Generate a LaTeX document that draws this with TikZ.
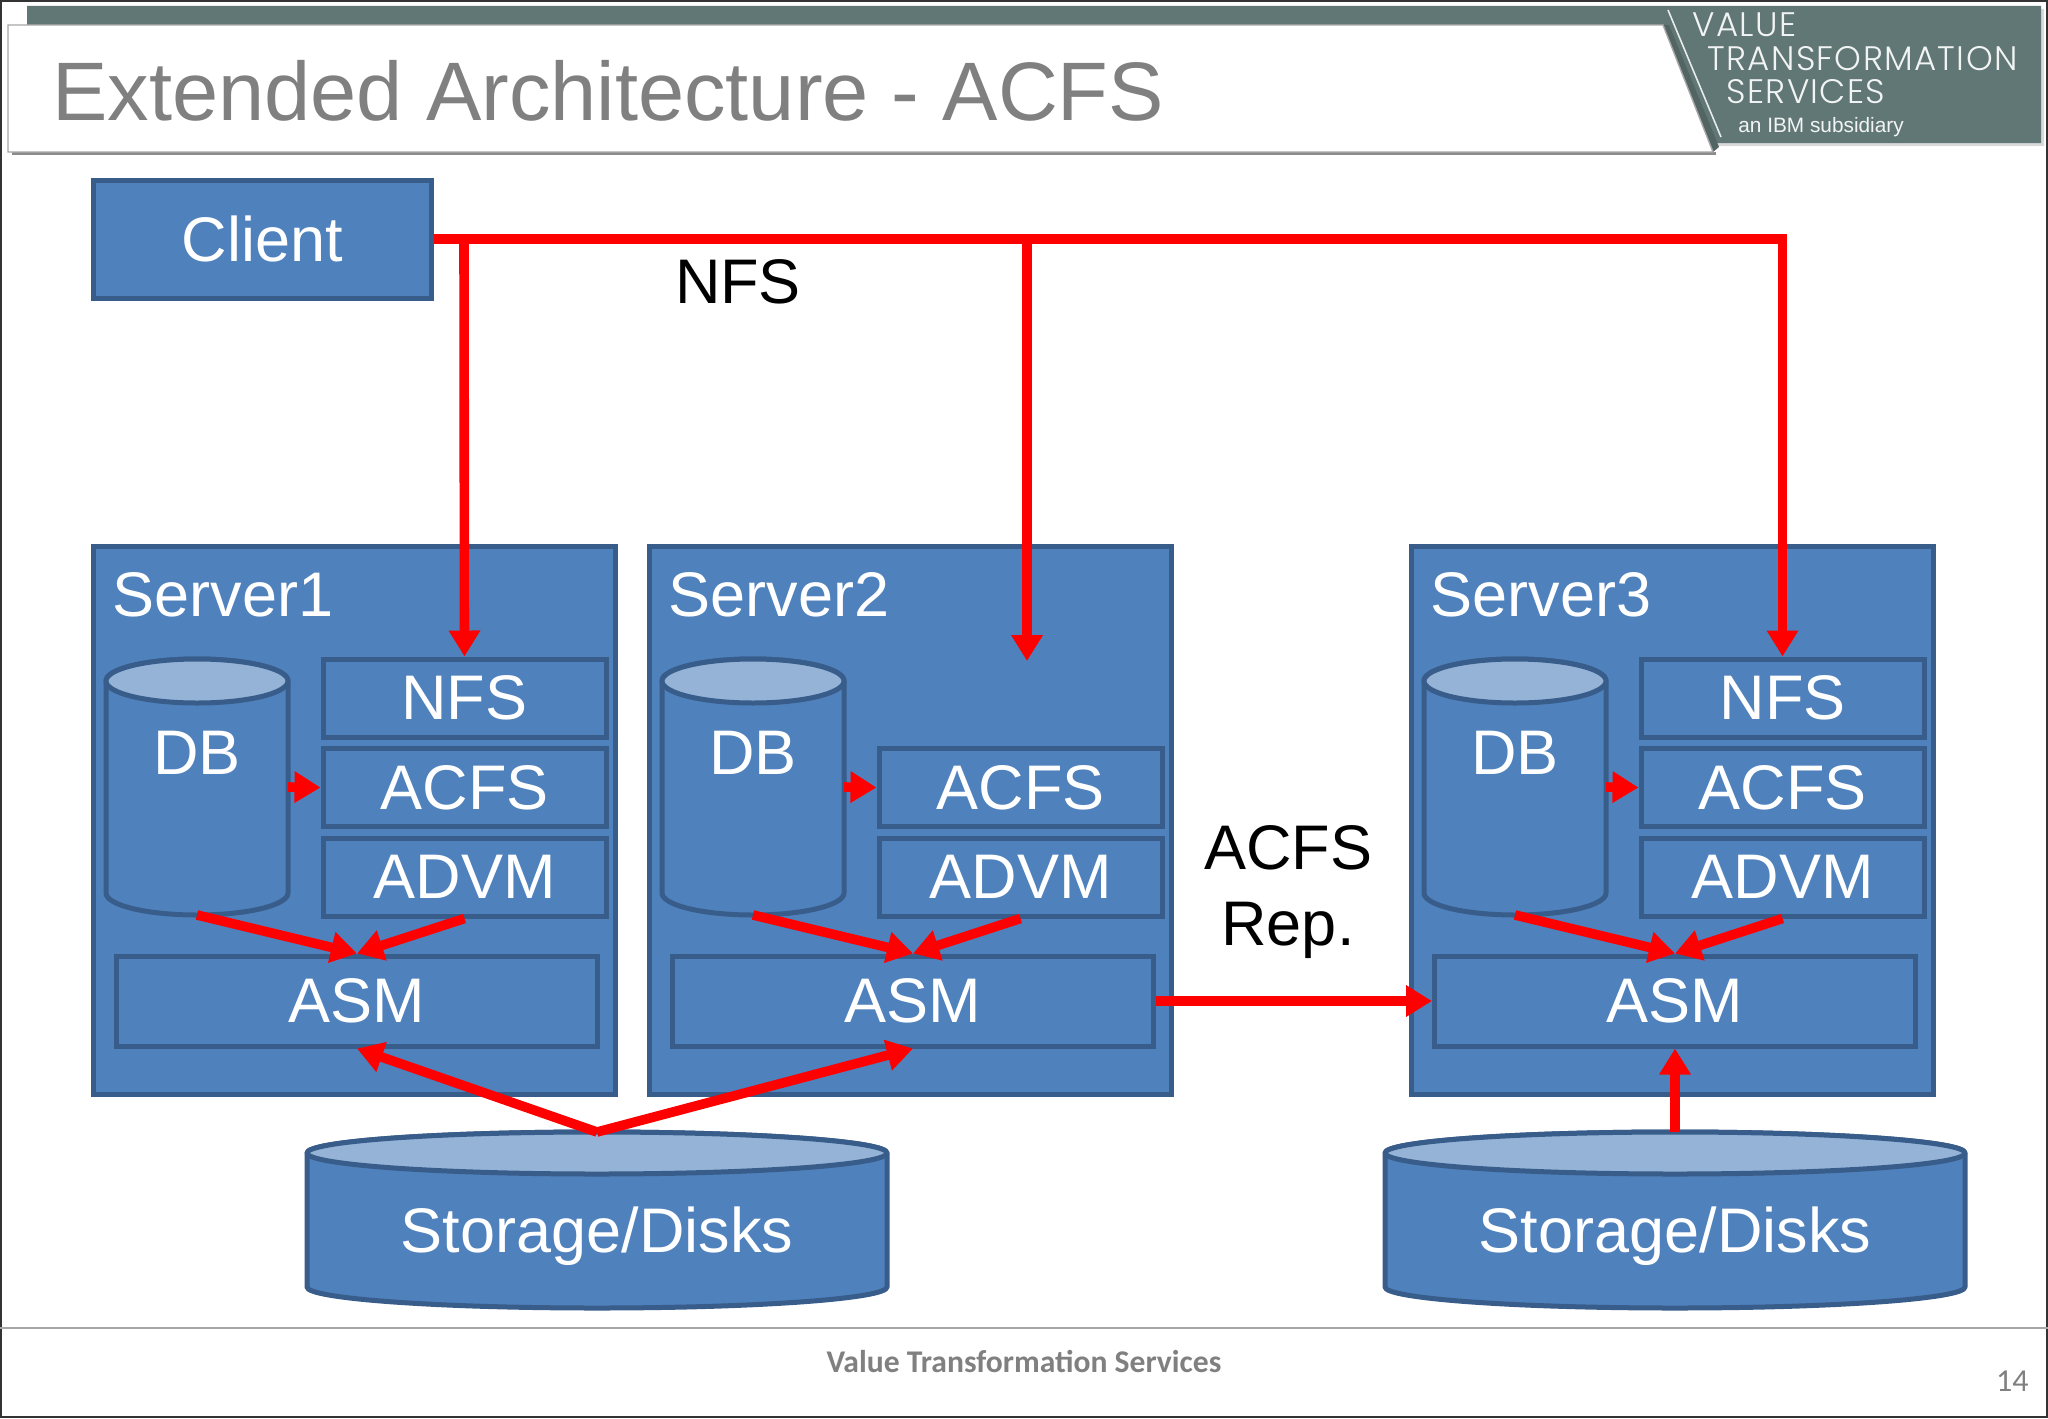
\documentclass[tikz,border=0pt]{standalone}
\usepackage{fontspec}
\setmainfont{Liberation Sans}
\newfontfamily\logofont{Poppins Light}[LetterSpace=4]
\newfontfamily\footfont{Carlito}
\usetikzlibrary{arrows.meta}
\definecolor{boxfill}{HTML}{4F81BD}
\definecolor{boxline}{HTML}{385D8A}
\definecolor{boxtop}{HTML}{95B3D7}
\definecolor{barfill}{HTML}{607775}
\definecolor{titlegray}{HTML}{808080}
\tikzset{
  box/.style={draw=boxline,fill=boxfill,line width=2.5pt,inner sep=0pt,text=white,
    font=\fontsize{31.5}{31.5}\selectfont},
  part/.style={box,minimum width=141.5pt,minimum height=39pt},
  can/.style={inner sep=0pt,outer sep=0pt},
  canline/.style={draw=boxline,line width=2.5pt,line join=round},
  pipe/.style={red,line width=4.8pt,-{Triangle[width=15pt,length=13pt]}},
  lbl/.style={inner sep=0pt,font=\fontsize{31.5}{31.5}\selectfont},
  logo/.style={inner sep=0pt,anchor=base west,text=white!92!barfill},
}
\begin{document}
\begin{tikzpicture}[x=.5pt,y=-.5pt]
  \def\drawcan#1#2#3{
    \filldraw[canline,fill=boxfill] ([yshift=-#3]#1.north west) -- ([yshift=#3]#1.south west)
      arc[start angle=180,end angle=360,x radius=#2,y radius=#3]
      -- ([yshift=-#3]#1.north east)
      arc[start angle=0,end angle=180,x radius=#2,y radius=#3] -- cycle;
    \filldraw[canline,fill=boxtop] ([yshift=-#3]#1.north) ellipse[x radius=#2,y radius=#3];
  }
  \useasboundingbox (0,0) rectangle (2048,1418);
  \fill[white] (0,0) rectangle (2048,1418);
  \draw[black!80,line width=1pt] (1,1) rectangle (2047,1417);

  \fill[black!15] (27,9) -- (2044,9) -- (2044,146) -- (1700,146) -- cycle;
  \fill[barfill] (27,6) -- (2041,6) -- (2041,143) -- (1700,143) -- (1663,25) -- (27,25) -- cycle;
  \fill[barfill!85!black] (1663,25) -- (1669,25) -- (1719,147) -- (1713,152) -- cycle;
  \fill[black!45] (12,152) rectangle (1716,155);
  \filldraw[draw=black!35,fill=white,line width=.7pt] (8,25) -- (1663,25) -- (1713,152) -- (8,152) -- cycle;
  \draw[white!85!barfill,line width=.8pt] (1668,10) -- (1721,137);
  \node[logo] (logovalue) at (1692,37) {\logofont\fontsize{17}{17}\selectfont VALUE};
  \node[logo] (logotrans) at (1707,71) {\logofont\fontsize{17}{17}\selectfont TRANSFORMATION};
  \node[logo] (logoserv) at (1726,104) {\logofont\fontsize{17}{17}\selectfont SERVICES};
  \node[logo] (logoibm) at (1738,133) {\fontsize{10.4}{10.4}\selectfont an IBM subsidiary};
  \node[lbl,anchor=base west,text=titlegray,font=\fontsize{41.5}{41.5}\selectfont] (title) at (52,120) {Extended Architecture - ACFS};

  \draw[black!35,line width=.8pt] (0,1328) -- (2048,1328);
  \node[inner sep=0pt,text=titlegray,font=\footfont\bfseries\fontsize{15.8}{15.8}\selectfont,anchor=base] (footer) at (1024,1372) {Value Transformation Services};
  \node[inner sep=0pt,text=titlegray,font=\footfont\fontsize{16}{16}\selectfont,anchor=base east] (pagenum) at (2029,1391) {14};

  \node[box,minimum width=169pt,minimum height=59pt] (client) at (262.5,239) {Client};

  \foreach \s/\dx in {1/0,2/556,3/1318} {
    \node[box,minimum width=261pt,minimum height=274pt] (server\s) at (354+\dx,820) {};
    \node[lbl,text=white,anchor=base west] (slabel\s) at (112.5+\dx,616) {Server\s};
    \node[can,minimum width=91pt,minimum height=128pt] (db\s) at (197+\dx,787) {};
    \drawcan{db\s}{45.5pt}{11pt}
    \node[lbl,text=white] (dbtext\s) at (197+\dx,753) {DB};
    \node[part] (acfs\s) at (464.5+\dx,787.5) {ACFS};
    \node[part] (advm\s) at (464.5+\dx,877) {ADVM};
    \node[box,minimum width=240.5pt,minimum height=45pt] (asm\s) at (357+\dx,1001) {ASM};
  }
  \node[part] (nfs1) at (464.5,698) {NFS};
  \node[part] (nfs3) at (1782.5,698) {NFS};

  \node[can,minimum width=290pt,minimum height=88pt] (disk1) at (597,1220) {};
  \drawcan{disk1}{145pt}{10.5pt}
  \node[lbl,text=white] (disktext1) at (597,1236) {Storage/Disks};
  \node[can,minimum width=290pt,minimum height=88pt] (disk2) at (1675,1220) {};
  \drawcan{disk2}{145pt}{10.5pt}
  \node[lbl,text=white] (disktext2) at (1675,1236) {Storage/Disks};

  \node[lbl,anchor=base] (nfslabel) at (738,303) {NFS};
  \node[lbl,anchor=base] (replabel1) at (1288,869) {ACFS};
  \node[lbl,anchor=base] (replabel2) at (1288,945) {Rep.};

  \coordinate (junction1) at (464,239);
  \coordinate (junction2) at (1027,239);
  \coordinate (free2) at (1027,661);
  \draw[pipe] (client.east) -| (nfs3.north);
  \draw[pipe] (junction1) -- (nfs1.north);
  \draw[pipe] (junction2) -- (free2);

  \foreach \s in {1,2,3} {
    \draw[pipe] (db\s.east) -- (acfs\s.west);
    \draw[pipe] (db\s.south) -- (asm\s.north);
    \draw[pipe] (advm\s.south) -- (asm\s.north);
  }
  \draw[pipe] (asm2.east) -- (asm3.west);
  \draw[pipe] (disk1.north) -- (asm1.south);
  \draw[pipe] (disk1.north) -- (asm2.south);
  \draw[pipe] (disk2.north) -- (asm3.south);
\end{tikzpicture}
\end{document}
